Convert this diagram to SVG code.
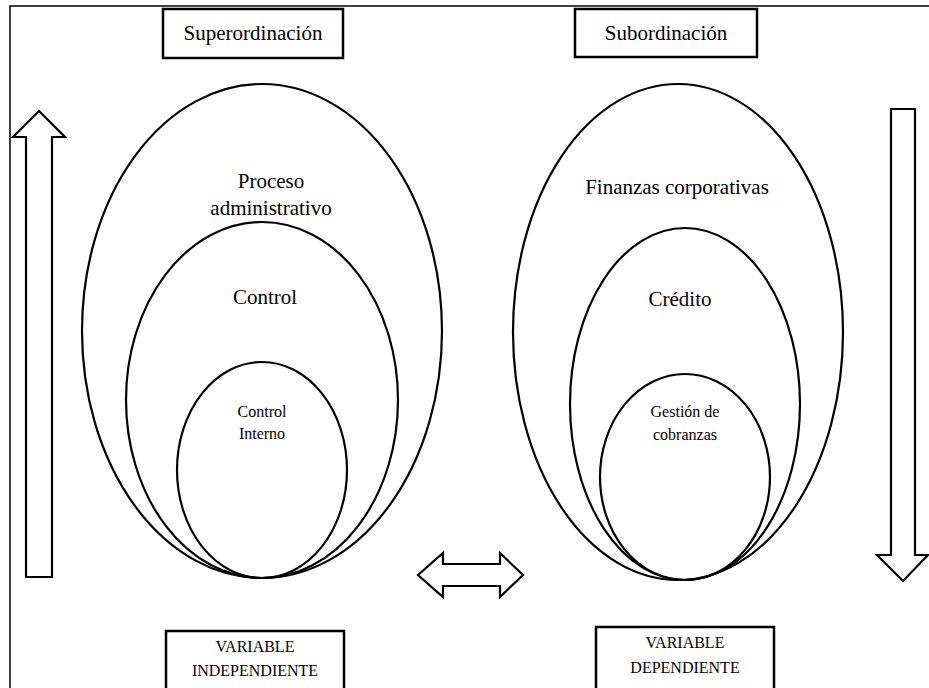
<svg xmlns="http://www.w3.org/2000/svg" width="929" height="688" viewBox="0 0 929 688">
  <style>
    .frame { fill: none; stroke: #000; stroke-width: 1.5; }
    .box { fill: #fff; stroke: #000; stroke-width: 2.5; }
    .ring { fill: none; stroke: #000; stroke-width: 2.2; }
    .arrow { fill: #fff; stroke: #000; stroke-width: 2.2; stroke-linejoin: miter; }
    text { fill: #000; text-anchor: middle; font-family: 'Liberation Serif', 'DejaVu Serif', 'Tinos', 'Noto Serif', 'FreeSerif', 'Times New Roman', Times, serif; }
    .big { font-size: 21px; }
    .small { font-size: 16px; }
    .label { font-size: 16px; }
  </style>

  <!-- outer frame (open at right and bottom) -->
  <path class="frame" d="M10 688 V6 H929"/>

  <!-- left nested ellipses -->
  <g id="proceso-administrativo">
    <ellipse class="ring" cx="262" cy="331" rx="180" ry="247"/>
    <text class="big" x="271" y="188">Proceso</text>
    <text class="big" x="271" y="215">administrativo</text>
  </g>
  <g id="control">
    <ellipse class="ring" cx="262" cy="400" rx="136" ry="178"/>
    <text class="big" x="265" y="304">Control</text>
  </g>
  <g id="control-interno">
    <ellipse class="ring" cx="262" cy="470" rx="85" ry="108"/>
    <text class="small" x="262" y="417">Control</text>
    <text class="small" x="262" y="439">Interno</text>
  </g>

  <!-- right nested ellipses -->
  <g id="finanzas-corporativas">
    <ellipse class="ring" cx="678" cy="332" rx="165" ry="248"/>
    <text class="big" x="677" y="194">Finanzas corporativas</text>
  </g>
  <g id="credito">
    <ellipse class="ring" cx="685" cy="404" rx="115" ry="176"/>
    <text class="big" x="680" y="306">Crédito</text>
  </g>
  <g id="gestion-cobranzas">
    <ellipse class="ring" cx="685" cy="477" rx="85" ry="103"/>
    <text class="small" x="685" y="417">Gestión de</text>
    <text class="small" x="685" y="440">cobranzas</text>
  </g>

  <!-- heading boxes -->
  <g id="superordinacion">
    <rect class="box" x="163" y="9" width="180" height="49"/>
    <text class="big" x="253" y="40">Superordinación</text>
  </g>
  <g id="subordinacion">
    <rect class="box" x="575" y="9" width="182" height="48"/>
    <text class="big" x="666" y="40">Subordinación</text>
  </g>

  <!-- variable boxes -->
  <g id="variable-independiente">
    <rect class="box" x="166" y="631" width="178" height="60"/>
    <text class="label" x="255" y="652">VARIABLE</text>
    <text class="label" x="255" y="676">INDEPENDIENTE</text>
  </g>
  <g id="variable-dependiente">
    <rect class="box" x="596" y="627" width="178" height="64"/>
    <text class="label" x="685" y="648">VARIABLE</text>
    <text class="label" x="685" y="673">DEPENDIENTE</text>
  </g>

  <!-- block arrows -->
  <g id="connectors">
    <path class="arrow" d="M26 577 V137 H13 L39 111 L65 137 H52 V577 Z"/>
    <path class="arrow" d="M891 109 H915 V555 H928 L903 581 L877 555 H891 Z"/>
    <path class="arrow" d="M418 575 L443 553 V564 H500 V553 L523 575 L500 597 V586 H443 V597 Z"/>
  </g>
</svg>
